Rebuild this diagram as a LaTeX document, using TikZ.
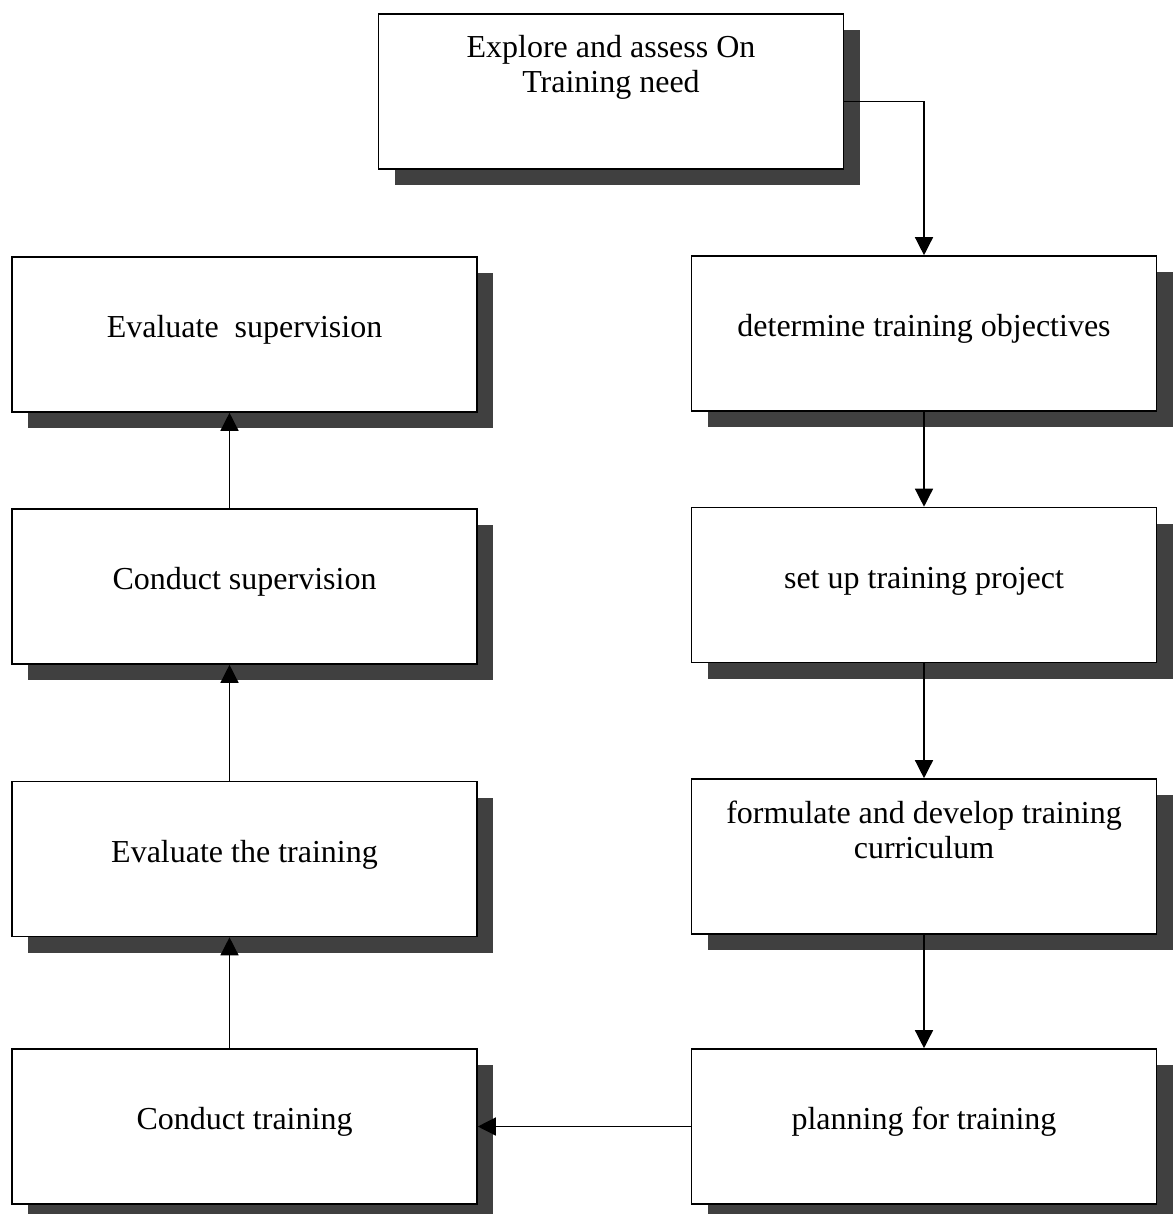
\documentclass[tikz,border=0pt]{standalone}
\usepackage{fontspec}
\setmainfont{Liberation Serif}
\usetikzlibrary{arrows.meta,shadows}
\begin{document}
\begin{tikzpicture}
  [x=0.5pt,y=-0.5pt,
   every node/.style={draw,line width=0.8pt,fill=white,inner sep=0pt,
     minimum width=232.5pt,minimum height=77.5pt,
     font=\fontsize{16}{17.5}\selectfont,text height=11pt,text depth=8pt,
     drop shadow={shadow xshift=8pt,shadow yshift=-8pt,fill=black!75,opacity=1}},
   two/.style={align=center,text height=28.5pt,text depth=27pt},
   link/.style={-{Triangle[length=9pt,width=9pt]},line width=0.7pt}]
  \useasboundingbox (0,0) rectangle (1172,1214);

  \node (t0) at (611,91.5) [two] {Explore and assess On\\Training need};
  \node (l1) at (244.5,334.5)  {Evaluate~ supervision};
  \node (l2) at (244.5,586.5)  {Conduct supervision};
  \node (l3) at (244.5,859)    {Evaluate the training};
  \node (l4) at (244.5,1126.5) {Conduct training};
  \node (r1) at (924,333.5)    {determine training objectives};
  \node (r2) at (924,585)      {set up training project};
  \node (r3) at (924,856.5) [two] {formulate and develop training\\curriculum};
  \node (r4) at (924,1126.5)   {planning for training};

  \draw[link] ([yshift=-5pt]t0.east) -| (r1);
  \foreach \from/\to in {r1/r2,r2/r3,r3/r4,r4/l4}
    \draw[link] (\from) -- (\to);
  \foreach \from/\to in {l4/l3,l3/l2,l2/l1}
    \draw[link] ([xshift=-7.5pt]\from.north) -- ([xshift=-7.5pt]\to.south);

\end{tikzpicture}
\end{document}
